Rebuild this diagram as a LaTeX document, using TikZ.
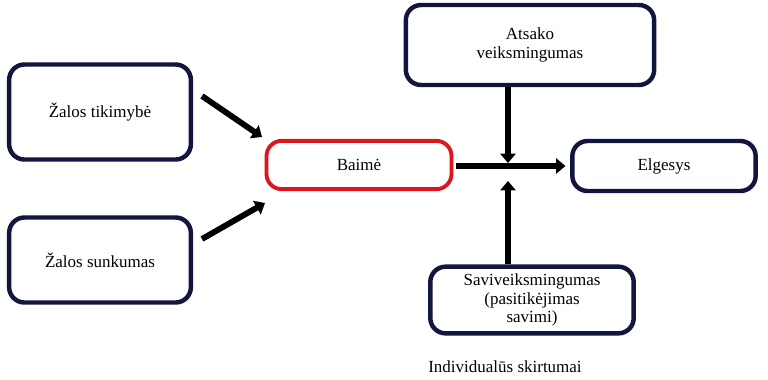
\documentclass[tikz,border=0pt]{standalone}
\usepackage{fontspec}
\setmainfont{Liberation Serif}
\usepackage{xcolor}
\usetikzlibrary{arrows.meta,calc,positioning}

\definecolor{boxnavy}{RGB}{18,22,62}
\definecolor{fearred}{RGB}{220,22,30}

\begin{document}
\begin{tikzpicture}[x=0.03cm,y=-0.03cm]
% Define styles
\tikzstyle{box}=[rectangle, rounded corners=13pt, draw=boxnavy, line width=3.8pt, align=center, font=\fontsize{14.5}{16}\selectfont]
\tikzstyle{fearbox}=[box, draw=fearred, line width=3.3pt]
\tikzstyle{arrow}=[line width=5pt, -{Triangle[length=8pt,width=13pt]}]

\useasboundingbox (0,0) rectangle (768,379);

% Inputs
\node[box, minimum width=5.45cm, minimum height=2.85cm] (tikimybe) at (100,112) {Žalos tikimybė};
\node[box, minimum width=5.45cm, minimum height=2.55cm] (sunkumas) at (100,260) {Žalos sunkumas};

% Fear and behaviour
\node[fearbox, minimum width=5.55cm, minimum height=1.45cm] (baime) at (359,165) {Baimė};
\node[box, minimum width=5.5cm, minimum height=1.5cm] (elgesys) at (664,166) {Elgesys};

% Moderators
\node[box, minimum width=7.45cm, minimum height=2.4cm] (atsako) at (530,45) {Atsako\\veiksmingumas};
\node[box, minimum width=6.1cm, minimum height=2cm] (savi) at (532,300) {Saviveiksmingumas\\(pasitikėjimas\\savimi)};

% Label
\node[font=\fontsize{14.5}{16}\selectfont] (skirtumai) at (505,367) {Individualūs skirtumai};

% Arrow ends
\coordinate (t1) at (202,96);
\coordinate (t2) at (262,137);
\coordinate (s1) at (202,239);
\coordinate (s2) at (265,203);
\coordinate (jtop) at (508,163);
\coordinate (jbot) at (508,181);

% Arrows
\draw[arrow] (t1) -- (t2);
\draw[arrow] (s1) -- (s2);
\draw[arrow, shorten <=2pt, shorten >=4pt] (baime.east |- elgesys) -- (elgesys.west);
\draw[arrow] (atsako.south -| jtop) -- (jtop);
\draw[arrow] (savi.north -| jbot) -- (jbot);

\end{tikzpicture}
\end{document}
